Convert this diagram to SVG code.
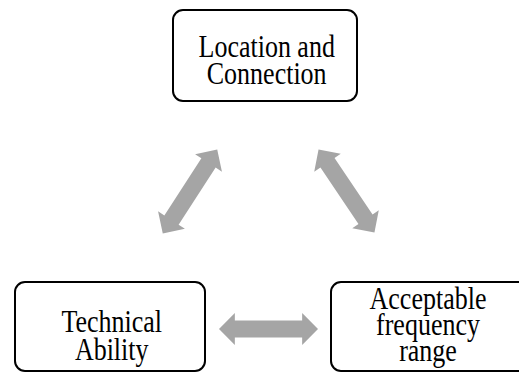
<svg xmlns="http://www.w3.org/2000/svg" width="519" height="376" viewBox="0 0 519 376">
<style>
.box{fill:#fff;stroke:#000;stroke-width:2}
.arr{fill:#a5a5a5}
</style>
<defs>
<polygon id="dbl" class="arr" points="-50,0 -34,-16 -34,-8.5 34,-8.5 34,-16 50,0 34,16 34,8.5 -34,8.5 -34,16"/>
</defs>
<rect width="519" height="376" fill="#fff"/>
<g id="connectors">
<use href="#dbl" transform="translate(190,191.5) rotate(-57)"/>
<use href="#dbl" transform="translate(346.5,191) rotate(56)"/>
<use href="#dbl" transform="translate(268.5,329) scale(0.99,1)"/>
</g>
<g font-family="Liberation Serif, Times New Roman, serif" font-size="26" text-anchor="middle" fill="#000">
<g id="location">
<rect class="box" x="173" y="10" width="184" height="91" rx="10"/>
<text transform="translate(266.7,56.7) scale(1,1.2)">Location and</text>
<text transform="translate(266.7,84.3) scale(1,1.2)">Connection</text>
</g>
<g id="technical">
<rect class="box" x="15" y="282" width="190" height="89" rx="10"/>
<text transform="translate(111.7,331.7) scale(1,1.2)">Technical</text>
<text transform="translate(111.7,360) scale(1,1.2)">Ability</text>
</g>
<g id="frequency">
<rect class="box" x="331" y="282" width="200" height="89" rx="10"/>
<text transform="translate(428,309) scale(1,1.2)">Acceptable</text>
<text transform="translate(428,335) scale(1,1.2)">frequency</text>
<text transform="translate(428,361) scale(1,1.2)">range</text>
</g>
</g>
</svg>
